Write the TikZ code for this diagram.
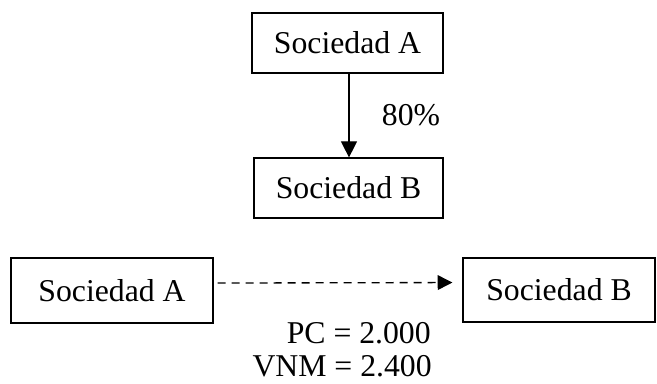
\documentclass[tikz,border=0pt]{standalone}
\usepackage{fontspec}
\setmainfont{Liberation Serif}
\usetikzlibrary{arrows.meta}
\begin{document}
\begin{tikzpicture}[x=0.75pt,y=-0.75pt,
  every node/.style={font=\fontsize{23.8pt}{28pt}\selectfont, inner sep=0pt},
  entity/.style={draw, line width=0.9pt, align=center},
  link/.style={line width=0.8pt, -{Triangle[length=12pt,width=12pt]}}]
\useasboundingbox (0,0) rectangle (657,383);

% holding structure
\node[entity, minimum width=143.25pt, minimum height=45pt] (topA) at (347.5,43) {Sociedad A};
\node[entity, minimum width=141.75pt, minimum height=45pt] (topB) at (348.5,188) {Sociedad B};
\draw[link] (topA.south -| 349,0) -- (topB.north -| 349,0);
\node (pct) at (411,115) {80\%};

% dashed relation between the two companies
\node[entity, minimum width=151.5pt, minimum height=48.75pt] (botA) at (112,290.5) {Sociedad A};
\node[entity, minimum width=144pt, minimum height=48pt] (botB) at (559,290) {Sociedad B};
\draw[link, line width=1pt, -{Triangle[length=11pt,width=11pt]}, dash pattern=on 6pt off 4.5pt]
  ([yshift=5.6pt, xshift=3pt]botA.east) -- ([yshift=5.6pt, xshift=-7.5pt]botB.west);

% values
\node[anchor=east] (pc) at (431,333) {PC = 2.000};
\node[anchor=east] (vnm) at (432,366) {VNM = 2.400};
\end{tikzpicture}
\end{document}
